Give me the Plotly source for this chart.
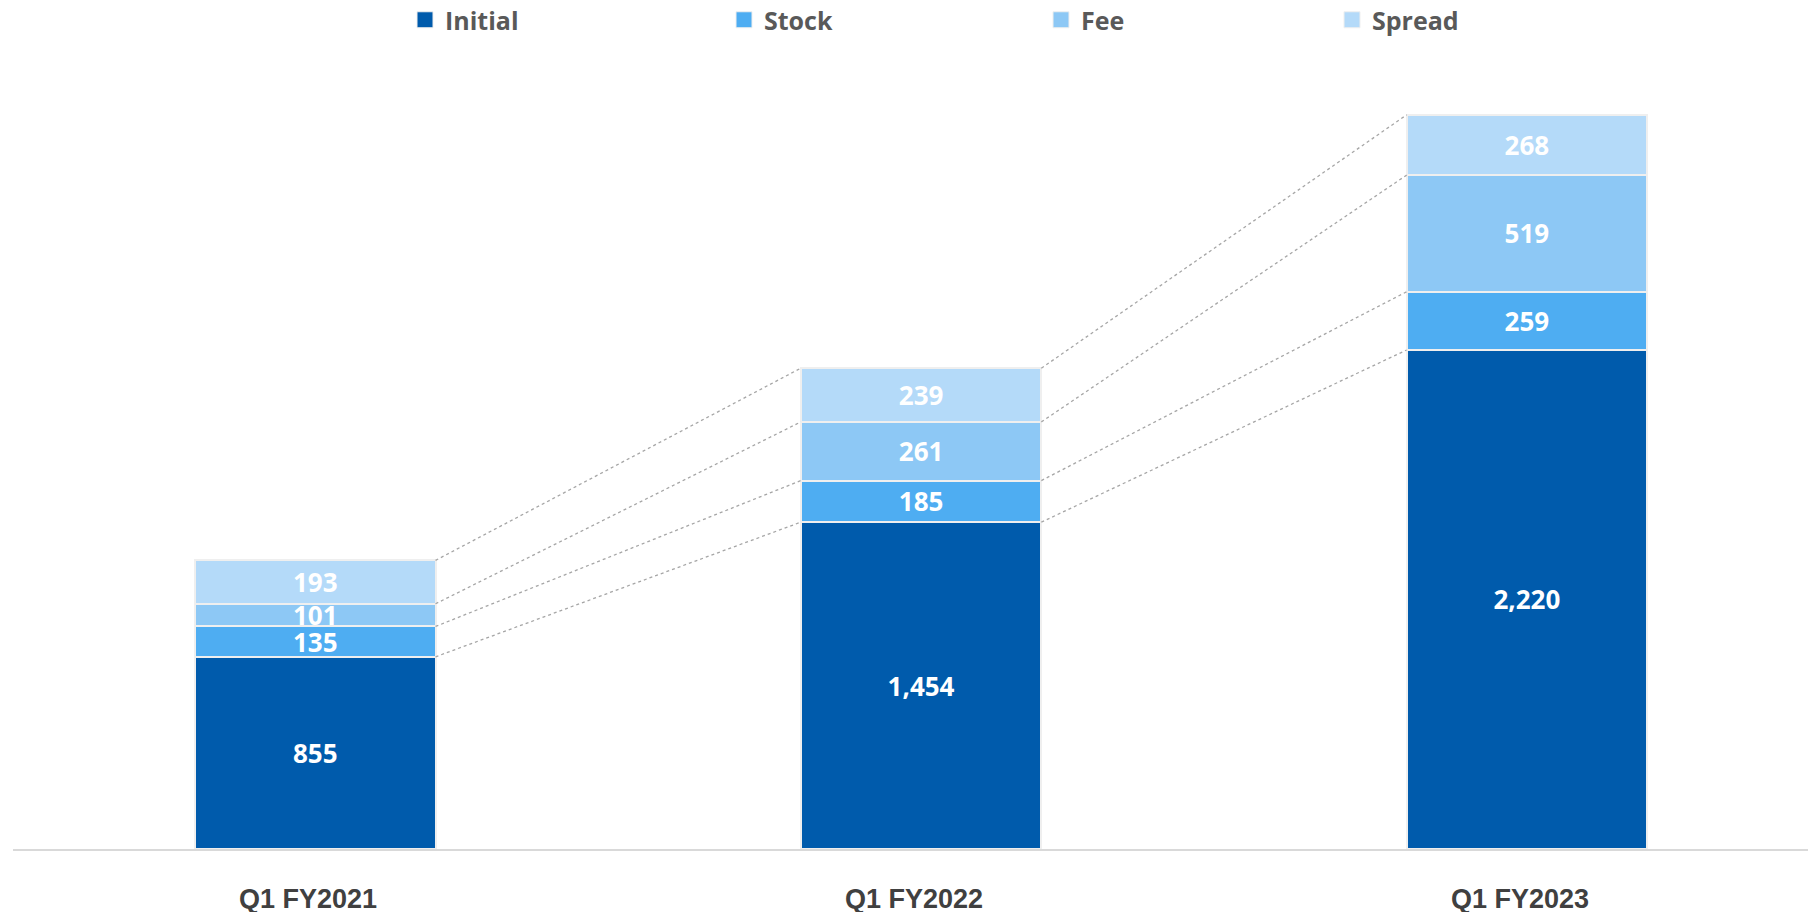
import plotly.graph_objects as go

categories = ["Q1 FY2021", "Q1 FY2022", "Q1 FY2023"]
initial = [855, 1454, 2220]
stock = [135, 185, 259]
fee = [101, 261, 519]
spread = [193, 239, 268]

series = [
    ("Initial", initial, "#005BAC", 274),
    ("Stock", stock, "#4EADF2", 272),
    ("Fee", fee, "#8DC8F5", 246),
    ("Spread", spread, "#B4DAF9", 100),
]

BAR_W = 0.397
xs = list(range(len(categories)))

W, H = 1800, 904

fig = go.Figure()
for name, vals, color, lw in series:
    fig.add_trace(go.Bar(
        x=xs, y=vals, name=name, width=BAR_W,
        marker=dict(color=color, line=dict(color="#EFEFEF", width=2)),
        text=[f"{v:,}" for v in vals],
        textposition="inside", insidetextanchor="middle",
        constraintext="none",
        textfont=dict(family="Open Sans", size=26, color="white", weight="bold"),
        showlegend=False,
        hoverinfo="skip",
    ))

# legend entries with larger square swatches
for name, vals, color, lw in series:
    fig.add_trace(go.Scatter(
        x=[None], y=[None], mode="markers", name=name,
        marker=dict(symbol="square", size=16, color=color,
                    line=dict(color="#EFEFEF", width=1)),
        legendwidth=lw, showlegend=True, hoverinfo="skip",
    ))

# connector lines between cumulative tops of adjacent bars
cum = []
running = [0] * len(categories)
for name, vals, color, lw in series:
    running = [r + v for r, v in zip(running, vals)]
    cum.append(list(running))

for level in cum:
    for i in range(len(categories) - 1):
        fig.add_trace(go.Scatter(
            x=[xs[i] + BAR_W / 2, xs[i + 1] - BAR_W / 2],
            y=[level[i], level[i + 1]],
            mode="lines",
            line=dict(color="#A6A6A6", width=1.3, dash="3px,3px"),
            showlegend=False, hoverinfo="skip",
        ))

# category labels below the axis
for x, cat in zip(xs, categories):
    fig.add_annotation(
        x=x, y=0, xref="x", yref="y", text=cat, showarrow=False,
        xanchor="center", yanchor="middle", xshift=-7, yshift=-50,
        font=dict(family="Liberation Sans", size=27, color="#404040", weight="bold"),
    )

fig.update_layout(
    barmode="stack",
    width=W, height=H,
    margin=dict(l=5, r=0, t=52, b=63, autoexpand=False),
    plot_bgcolor="white", paper_bgcolor="white",
    showlegend=True,
    legend=dict(
        orientation="h", xref="container", yref="container",
        x=397 / W, xanchor="left", y=1 - 12 / H, yanchor="middle",
        font=dict(family="Open Sans", size=25, color="#595959", weight="bold"),
        traceorder="normal",
    ),
    xaxis=dict(
        range=[-0.499, 2.464], tickvals=xs, showticklabels=False,
        showline=True, linecolor="#D9D9D9", linewidth=2,
        showgrid=False, zeroline=False, ticks="", automargin=False,
    ),
    yaxis=dict(range=[0, 3510], showgrid=False, zeroline=False, automargin=False,
               showticklabels=False, showline=False),
)

fig.write_html("out.html")
